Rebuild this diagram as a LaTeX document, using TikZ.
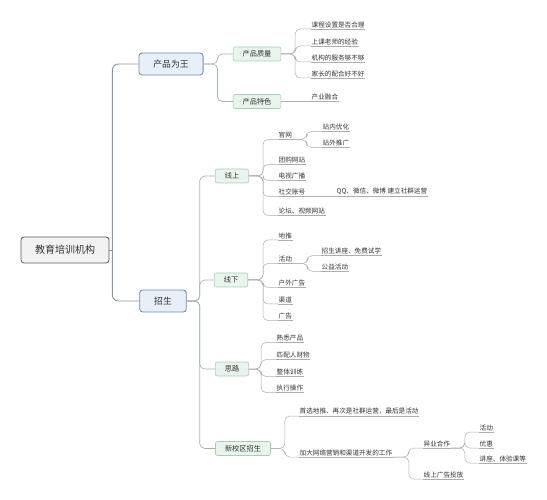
\documentclass[tikz,border=0pt]{standalone}
\usepackage{fontspec}
\setmainfont{Noto Sans CJK SC}
\definecolor{rootfill}{HTML}{F2F2F2}
\definecolor{rootline}{HTML}{595959}
\definecolor{bluefill}{HTML}{E8EFF8}
\definecolor{blueline}{HTML}{7088A6}
\definecolor{greenfill}{HTML}{E9F5EC}
\definecolor{greenline}{HTML}{A9CDB5}
\definecolor{mainc}{HTML}{8496A8}
\definecolor{subc}{HTML}{A5B5AE}
\definecolor{leafc}{HTML}{ADADAD}
\definecolor{ink}{HTML}{333333}
\tikzset{
  box/.style={draw, rounded corners=3pt, text=ink},
  topbox/.style={box, fill=rootfill, draw=rootline, line width=0.8pt, font=\fontsize{10}{12}\selectfont, inner xsep=14pt, minimum height=26pt},
  lvone/.style={box, fill=bluefill, draw=blueline, line width=0.8pt, font=\fontsize{8.8}{10}\selectfont, inner xsep=14.5pt, minimum height=22pt},
  lvtwo/.style={box, fill=greenfill, draw=greenline, line width=0.6pt, rounded corners=2pt, font=\fontsize{7.2}{9}\selectfont, inner xsep=9.5pt, minimum height=14pt},
  leaf/.style={anchor=south west, inner xsep=0.5pt, inner ysep=1.2pt, text=ink, font=\fontsize{6.6}{8}\selectfont},
  mainline/.style={draw=mainc, line width=0.9pt, rounded corners=6pt},
  subline/.style={draw=subc, line width=0.7pt, rounded corners=5pt},
  leafline/.style={draw=leafc, line width=0.5pt, rounded corners=5pt}
}
\begin{document}
\begin{tikzpicture}[x=1pt,y=-1pt]
\useasboundingbox (0,0) rectangle (547,500);
% boxes
\node[topbox] (root) at (65,250) {教育培训机构};
\node[lvone] (wang) at (171,64) {产品为王};
\node[lvone] (zs) at (163,301) {招生};
\node[lvtwo] (zl) at (257,54) {产品质量};
\node[lvtwo] (ts) at (257,101.5) {产品特色};
\node[lvtwo] (xs) at (232,176) {线上};
\node[lvtwo] (xx) at (231,280) {线下};
\node[lvtwo] (sl) at (232,369) {思路};
\node[lvtwo] (xq) at (243,448.5) {新校区招生};
% leaves
\node[leaf] (a1) at (311,29) {课程设置是否合理};
\node[leaf] (a2) at (311,46) {上课老师的经验};
\node[leaf] (a3) at (311,62) {机构的服务够不够};
\node[leaf] (a4) at (311,78) {家长的配合好不好};
\node[leaf] (b1) at (311,101.5) {产业融合};
\node[leaf] (c1) at (278,139.5) {官网};
\node[leaf] (c2) at (278,164.5) {团购网站};
\node[leaf] (c3) at (278,180.5) {电视广播};
\node[leaf] (c4) at (278,196.5) {社交账号};
\node[leaf] (c5) at (278,215.5) {论坛、视频网站};
\node[leaf] (d1) at (322,131.5) {站内优化};
\node[leaf] (d2) at (322,147.5) {站外推广};
\node[leaf] (e1) at (336,196.5) {QQ、微信、微博 建立社群运营};
\node[leaf] (f1) at (278,240) {地推};
\node[leaf] (f2) at (278,263.5) {活动};
\node[leaf] (f3) at (278,287.5) {户外广告};
\node[leaf] (f4) at (278,304) {渠道};
\node[leaf] (f5) at (278,320.5) {广告};
\node[leaf] (g1) at (321,255.5) {招生讲座、免费试学};
\node[leaf] (g2) at (321,271.5) {公益活动};
\node[leaf] (h1) at (276,342.5) {熟悉产品};
\node[leaf] (h2) at (276,359.5) {匹配人财物};
\node[leaf] (h3) at (276,376.5) {整体训练};
\node[leaf] (h4) at (276,392.5) {执行操作};
\node[leaf] (i1) at (299,416) {首选地推、再次是社群运营，最后是活动};
\node[leaf] (i2) at (299,457) {加大网络营销和渠道开发的工作};
\node[leaf] (j1) at (423,448) {异业合作};
\node[leaf] (j2) at (423,479) {线上广告投放};
\node[leaf] (k1) at (479,432) {活动};
\node[leaf] (k2) at (479,448) {优惠};
\node[leaf] (k3) at (479,463) {讲座、体验课等};
% underlines
\foreach \n in {a1,a2,a3,a4,b1,c1,c2,c3,c4,c5,d1,d2,e1,f1,f2,f3,f4,f5,g1,g2,h1,h2,h3,h4,i1,i2,j1,j2,k1,k2,k3}
  \draw[leafline] (\n.south west) -- (\n.south east);
% root branches
\coordinate (r) at ([xshift=3pt]root.east);
\draw[mainline] (root.east) -- (r);
\draw[mainline] (r) |- (wang.west);
\draw[mainline] (r) |- (zs.west);
% second level
\foreach \c in {zl,ts} \draw[subline] (wang.east) -- ++(14,0) |- (\c.west);
\foreach \c in {xs,xx,sl,xq} \draw[subline] (zs.east) -- ++(13,0) |- (\c.west);
% leaves
\foreach \c in {a1,a2,a3,a4} \draw[leafline] (zl.east) -- ++(14,0) |- (\c.south west);
\draw[leafline] (ts.east) -- (b1.south west);
\foreach \c in {c1,c2,c3,c4,c5} \draw[leafline] (xs.east) -- ++(14,0) |- (\c.south west);
\foreach \c in {d1,d2} \draw[leafline] (c1.south east) -- ++(14,0) |- (\c.south west);
\draw[leafline] (c4.south east) -- (e1.south west);
\foreach \c in {f1,f2,f3,f4,f5} \draw[leafline] (xx.east) -- ++(15,0) |- (\c.south west);
\foreach \c in {g1,g2} \draw[leafline] (f2.south east) -- ++(15,0) |- (\c.south west);
\foreach \c in {h1,h2,h3,h4} \draw[leafline] (sl.east) -- ++(12,0) |- (\c.south west);
\foreach \c in {i1,i2} \draw[leafline] (xq.east) -- ++(14,0) |- (\c.south west);
\foreach \c in {j1,j2} \draw[leafline] (i2.south east) -- ++(16,0) |- (\c.south west);
\foreach \c in {k1,k2,k3} \draw[leafline] (j1.south east) -- ++(14,0) |- (\c.south west);
\end{tikzpicture}
\end{document}
